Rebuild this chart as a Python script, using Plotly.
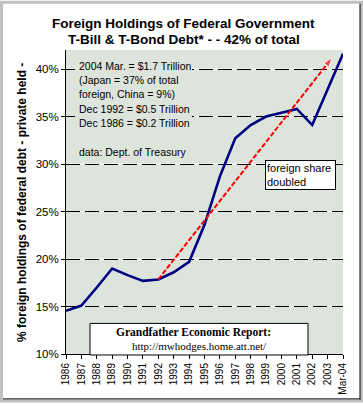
import plotly.graph_objects as go

years = ["1986", "1987", "1988", "1989", "1990", "1991", "1992", "1993", "1994", "1995",
         "1996", "1997", "1998", "1999", "2000", "2001", "2002", "2003", "Mar-04"]
foreign_pct = [14.55, 15.1, 17.0, 19.0, 18.3, 17.7, 17.85, 18.6, 19.7, 23.6,
               28.7, 32.7, 34.1, 35.0, 35.4, 35.8, 34.1, 37.9, 41.6]
trend_x = [6, 17.3]
trend_y = [17.85, 41.2]
y_ticks = [10, 15, 20, 25, 30, 35, 40]
title_lines = ["Foreign Holdings of Federal Government", "T-Bill & T-Bond Debt* - - 42% of total"]
note_lines = ["2004 Mar. = $1.7 Trillion", "(Japan = 37% of total", "foreign, China = 9%)",
              "Dec 1992 = $0.5 Trillion", "Dec 1986 = $0.2 Trillion", "", "data: Dept. of Treasury"]
ytitle = "% foreign holdings of federal debt - private held -"
callout = "foreign share<br>doubled"
credit_lines = ["Grandfather Economic Report:", "http://mwhodges.home.att.net/"]

W, H = 363, 407
L, R, T, B = 66, 343, 50, 358
pw, ph = R - L, B - T
BG = "#DCE4DC"

def px(x):
    return (x - L) / pw

def py(y):
    return (B - y) / ph

xi = list(range(len(years)))

fig = go.Figure()
fig.add_trace(go.Scatter(x=xi, y=foreign_pct, mode="lines",
                         line=dict(color="#000080", width=2.6), hoverinfo="skip"))
fig.add_trace(go.Scatter(x=trend_x, y=trend_y, mode="lines+markers",
                         line=dict(color="#FF0000", width=2, dash="5px,2px"),
                         marker=dict(symbol="arrow", size=[0, 10], angleref="previous",
                                     color="#FF0000"),
                         hoverinfo="skip"))

shapes = []
# white under-lines so gaps in dashed gridlines look white
for v in y_ticks[1:]:
    shapes.append(dict(type="line", xref="x", yref="y", x0=0, x1=len(years) - 1, y0=v, y1=v,
                       line=dict(color="white", width=1), layer="below"))
# note text backdrop hides gridlines
shapes.append(dict(type="rect", xref="paper", yref="paper",
                   x0=px(75), x1=px(192), y0=py(161), y1=py(58),
                   fillcolor=BG, line=dict(width=0), layer="above"))
# outer frame
shapes.append(dict(type="rect", xref="paper", yref="paper",
                   x0=px(1.5), x1=px(W - 1.5), y0=py(H - 1.5), y1=py(1.5),
                   line=dict(color="#C0C0C0", width=3)))
shapes.append(dict(type="line", xref="paper", yref="paper",
                   x0=px(360), x1=px(360), y0=py(3), y1=py(404),
                   line=dict(color="black", width=1)))
shapes.append(dict(type="line", xref="paper", yref="paper",
                   x0=px(3), x1=px(360.5), y0=py(403.5), y1=py(403.5),
                   line=dict(color="black", width=1)))
# credit box
shapes.append(dict(type="rect", xref="paper", yref="paper",
                   x0=px(90), x1=px(308), y0=py(359), y1=py(327),
                   fillcolor="white", line=dict(color="black", width=1), layer="above"))

ann = []
for i, t in enumerate(title_lines):
    ann.append(dict(text="<b>%s</b>" % t, xref="paper", yref="paper", x=px(183.5), y=py(23 + 16.5 * i),
                    xanchor="center", yanchor="middle", showarrow=False,
                    font=dict(family="Liberation Sans, Arial", size=13.5, color="black")))
for i, t in enumerate(note_lines):
    if t:
        ann.append(dict(text=t, xref="paper", yref="paper", x=px(77), y=py(66 + 14.5 * i),
                        xanchor="left", yanchor="middle", showarrow=False,
                        font=dict(family="Liberation Sans, Arial", size=10.5, color="black")))
ann.append(dict(text="<b>%s</b>" % ytitle, xref="paper", yref="paper", x=px(22), y=py(205),
                textangle=-90, xanchor="center", yanchor="middle", showarrow=False,
                font=dict(family="Liberation Sans, Arial", size=12, color="black")))
ann.append(dict(text=callout, xref="paper", yref="paper", x=px(265), y=py(161.7),
                xanchor="left", yanchor="top", showarrow=False, align="left",
                bgcolor="white", bordercolor="black", borderwidth=1, borderpad=1, width=67,
                font=dict(family="Liberation Sans, Arial", size=11, color="black")))
ann.append(dict(text="<b>%s</b>" % credit_lines[0], xref="paper", yref="paper", x=px(193), y=py(336),
                xanchor="center", yanchor="middle", showarrow=False,
                font=dict(family="Liberation Serif, Times New Roman", size=11.5, color="black")))
ann.append(dict(text=credit_lines[1], xref="paper", yref="paper", x=px(199), y=py(350),
                xanchor="center", yanchor="middle", showarrow=False,
                font=dict(family="Liberation Serif, Times New Roman", size=11, color="black")))

fig.update_layout(
    width=W, height=H,
    margin=dict(l=L, r=W - R, t=T, b=H - B, pad=0),
    paper_bgcolor="white", plot_bgcolor=BG,
    showlegend=False,
    shapes=shapes, annotations=ann,
    font=dict(family="Liberation Sans, Arial", color="black"),
    xaxis=dict(range=[0, len(years) - 1], tickvals=xi, ticktext=years, tickangle=-90,
               showgrid=False, zeroline=False, showline=True, linecolor="black", linewidth=1,
               ticks="outside", ticklen=4, tickcolor="black",
               tickfont=dict(size=10, family="Liberation Sans, Arial")),
    yaxis=dict(range=[10, 42], tickvals=y_ticks, ticktext=["%d%%" % v for v in y_ticks],
               showgrid=True, gridcolor="black", gridwidth=1, griddash="14px,5px",
               zeroline=False, showline=True, linecolor="black", linewidth=1,
               ticks="outside", ticklen=4, tickcolor="black",
               tickfont=dict(size=11.5, family="Liberation Sans, Arial")),
)

fig.write_html("out.html", config={"displayModeBar": False},
               post_script="document.body.style.margin='0';")
